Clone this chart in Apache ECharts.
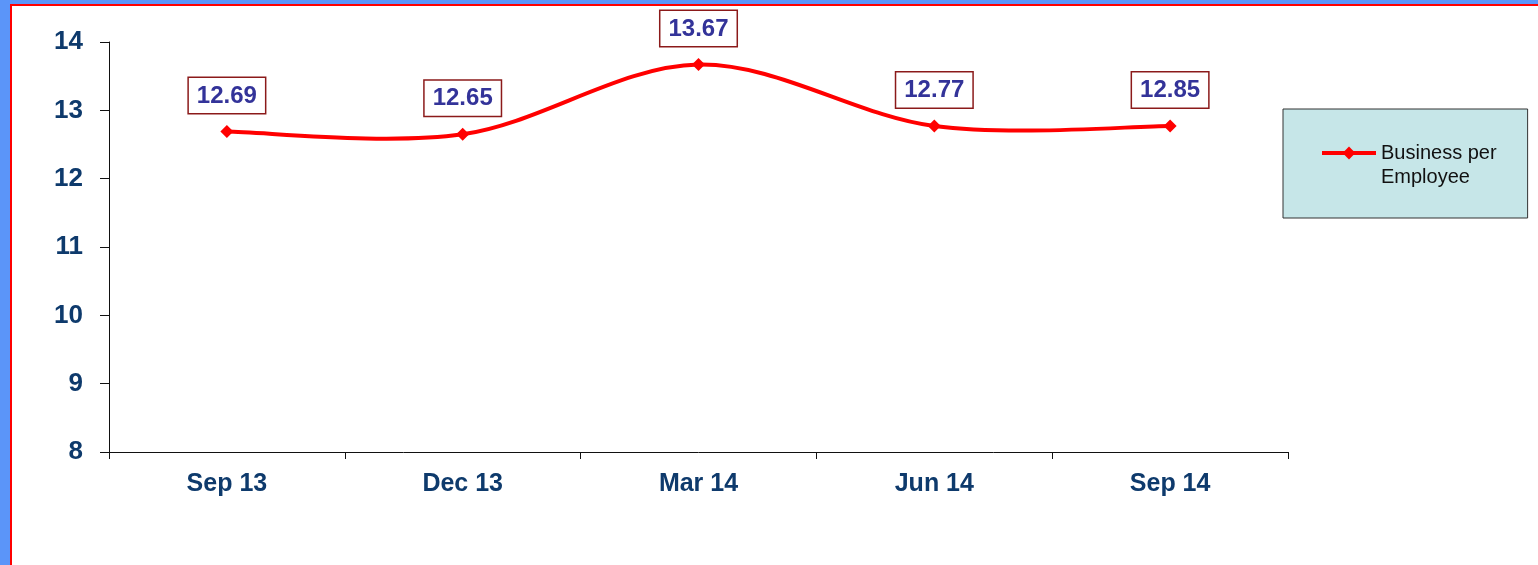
<!DOCTYPE html>
<html>
<head>
<meta charset="utf-8">
<script src="https://cdn.jsdelivr.net/npm/echarts@6/dist/echarts.min.js"></script>
<style>
html,body{margin:0;padding:0;background:#5b95f9;overflow:hidden;}
#chart{position:absolute;left:0;top:0;width:1538px;height:565px;}
</style>
</head>
<body>
<div id="chart"></div>
<script>
// ---- data ----
const categories = ['Sep 13', 'Dec 13', 'Mar 14', 'Jun 14', 'Sep 14'];
const seriesName = 'Business per Employee';
const values = [12.69, 12.65, 13.67, 12.77, 12.77];        // plotted positions
const valueLabels = ['12.69', '12.65', '13.67', '12.77', '12.85']; // label texts as printed
const yMin = 8, yMax = 14, yStep = 1;

const FONT = '"Liberation Sans", Arial, sans-serif';
const chart = echarts.init(document.getElementById('chart'), null, {renderer: 'canvas'});

// Excel-style smoothed segment (Catmull-Rom / Bezier) between point i and i+1,
// computed from the data through the chart's own coordinate system.
function renderSegment(params, api) {
  const i = params.dataIndex;
  const n = values.length;
  if (i >= n - 1) return null;
  const P = function (k) {
    k = Math.max(0, Math.min(n - 1, k));
    return api.coord([k, values[k]]);
  };
  const p0 = P(i - 1), p1 = P(i), p2 = P(i + 1), p3 = P(i + 2);
  const t = 1 / 6;
  return {
    type: 'bezierCurve',
    shape: {
      x1: p1[0], y1: p1[1],
      x2: p2[0], y2: p2[1],
      cpx1: p1[0] + (p2[0] - p0[0]) * t, cpy1: p1[1] + (p2[1] - p0[1]) * t,
      cpx2: p2[0] - (p3[0] - p1[0]) * t, cpy2: p2[1] - (p3[1] - p1[1]) * t
    },
    style: {stroke: '#ff0000', lineWidth: 4, fill: null, lineCap: 'round'}
  };
}

chart.setOption({
  backgroundColor: 'transparent',
  animation: false,
  graphic: [{
    type: 'rect', z: -10,
    shape: {x: 11, y: 5, width: 1540, height: 620},
    style: {fill: '#ffffff', stroke: '#ff0000', lineWidth: 2}
  }],
  grid: {left: 109, right: 250, top: 42, bottom: 113, containLabel: false},
  legend: {
    data: [seriesName],
    left: 1283, top: 109,
    orient: 'vertical',
    padding: [8, 31, 29, 37],
    backgroundColor: '#c6e6e8',
    borderColor: '#333333', borderWidth: 1,
    itemWidth: 54, itemHeight: 16,
    lineStyle: {color: '#ff0000', width: 4, opacity: 1},
    itemStyle: {color: '#ff0000', opacity: 1},
    formatter: function () { return '\nBusiness per\nEmployee'; },
    textStyle: {fontFamily: FONT, fontSize: 20, lineHeight: 24, color: '#111111'}
  },
  xAxis: {
    type: 'category',
    data: categories,
    boundaryGap: true,
    axisLine: {lineStyle: {color: '#111111', width: 1}},
    axisTick: {show: true, length: 7, alignWithLabel: false, lineStyle: {color: '#111111'}},
    axisLabel: {fontFamily: FONT, fontWeight: 'bold', fontSize: 25, color: '#0e3a6c', margin: 20}
  },
  yAxis: {
    type: 'value',
    min: yMin, max: yMax, interval: yStep,
    axisLine: {show: true, lineStyle: {color: '#111111', width: 1}},
    axisTick: {show: true, length: 9, lineStyle: {color: '#111111'}},
    splitLine: {show: false},
    axisLabel: {fontFamily: FONT, fontWeight: 'bold', fontSize: 26, color: '#0e3a6c', margin: 26}
  },
  series: [{
    name: 'curve',
    type: 'custom',
    data: values.map(function (v, i) { return [i, v]; }),
    encode: {x: 0, y: 1},
    renderItem: renderSegment,
    silent: true,
    z: 2
  }, {
    name: seriesName,
    type: 'line',
    data: values,
    symbol: 'diamond',
    symbolSize: 13,
    lineStyle: {color: '#ff0000', width: 4, opacity: 0},
    itemStyle: {color: '#ff0000'},
    z: 3,
    label: {
      show: true,
      position: 'top',
      distance: 12,
      formatter: function (p) { return valueLabels[p.dataIndex]; },
      fontFamily: FONT, fontWeight: 'bold', fontSize: 24, color: '#333399',
      backgroundColor: '#ffffff',
      borderColor: '#8b1a1a', borderWidth: 1.5,
      padding: [6, 8, 5, 8]
    }
  }]
});
</script>
</body>
</html>
